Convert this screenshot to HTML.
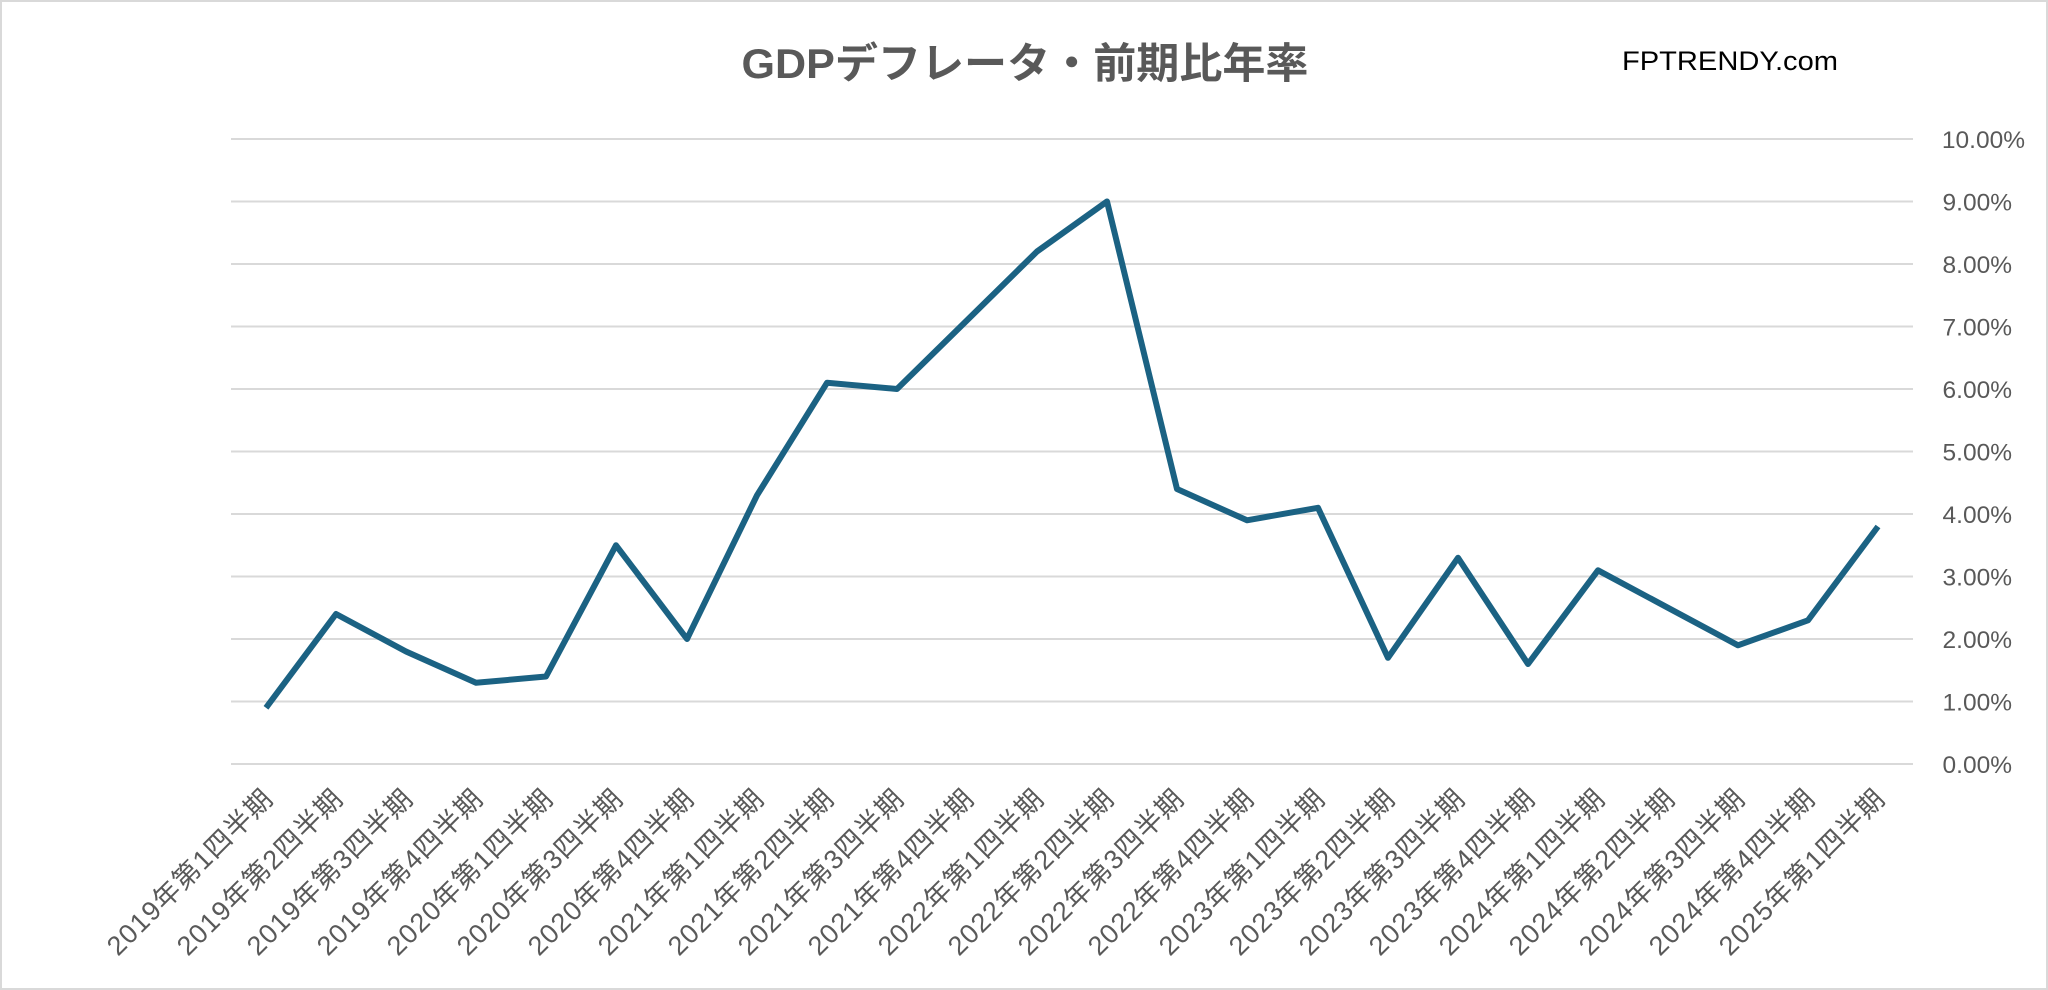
<!DOCTYPE html>
<html><head><meta charset="utf-8"><style>
html,body{margin:0;padding:0;background:#fff;}
svg{display:block;}
</style></head><body>
<svg width="2048" height="990" xmlns="http://www.w3.org/2000/svg">
<rect x="1" y="1" width="2046" height="988" fill="#fff" stroke="#d9d9d9" stroke-width="2"/>
<text x="1025" y="78" text-anchor="middle" font-family="Liberation Sans, Noto Sans CJK JP, sans-serif" font-weight="bold" font-size="42" fill="#595959" textLength="567" lengthAdjust="spacingAndGlyphs">GDPデフレータ・前期比年率</text>
<text x="1622" y="70" font-family="Liberation Sans, sans-serif" font-size="27" fill="#000" textLength="216" lengthAdjust="spacingAndGlyphs">FPTRENDY.com</text>
<g stroke="#d9d9d9" stroke-width="2">
<line x1="231" x2="1913" y1="139" y2="139"/><line x1="231" x2="1913" y1="201.5" y2="201.5"/>
<line x1="231" x2="1913" y1="264" y2="264"/><line x1="231" x2="1913" y1="326.5" y2="326.5"/>
<line x1="231" x2="1913" y1="389" y2="389"/><line x1="231" x2="1913" y1="451.5" y2="451.5"/>
<line x1="231" x2="1913" y1="514" y2="514"/><line x1="231" x2="1913" y1="576.5" y2="576.5"/>
<line x1="231" x2="1913" y1="639" y2="639"/><line x1="231" x2="1913" y1="701.5" y2="701.5"/>
<line x1="231" x2="1913" y1="764" y2="764"/>
</g>
<g font-family="Liberation Sans, sans-serif" font-size="24.5" fill="#595959" text-anchor="end">
<text x="2025" y="148">10.00%</text><text x="2012" y="210.5">9.00%</text>
<text x="2012" y="273">8.00%</text><text x="2012" y="335.5">7.00%</text>
<text x="2012" y="398">6.00%</text><text x="2012" y="460.5">5.00%</text>
<text x="2012" y="523">4.00%</text><text x="2012" y="585.5">3.00%</text>
<text x="2012" y="648">2.00%</text><text x="2012" y="710.5">1.00%</text>
<text x="2012" y="773">0.00%</text>
</g>
<polyline fill="none" stroke="#1b6283" stroke-width="6" stroke-linejoin="round" points="266,707.8 336,614 406,651.5 476,682.8 546,676.5 616,545.3 687,639 757,495.3 827,382.8 897,389 967,320.3 1037,251.5 1107,201.5 1177,489 1247,520.3 1318,507.8 1388,657.8 1458,557.8 1528,664 1598,570.3 1668,607.8 1738,645.3 1808,620.3 1878,526.5"/>
<g font-family="Liberation Sans, Noto Sans CJK JP, sans-serif" font-size="27" letter-spacing="1.2" fill="#595959" text-anchor="end">
<text transform="translate(275,800) rotate(-45)">2019年第1四半期</text>
<text transform="translate(345,800) rotate(-45)">2019年第2四半期</text>
<text transform="translate(415,800) rotate(-45)">2019年第3四半期</text>
<text transform="translate(485,800) rotate(-45)">2019年第4四半期</text>
<text transform="translate(555,800) rotate(-45)">2020年第1四半期</text>
<text transform="translate(625,800) rotate(-45)">2020年第3四半期</text>
<text transform="translate(696,800) rotate(-45)">2020年第4四半期</text>
<text transform="translate(766,800) rotate(-45)">2021年第1四半期</text>
<text transform="translate(836,800) rotate(-45)">2021年第2四半期</text>
<text transform="translate(906,800) rotate(-45)">2021年第3四半期</text>
<text transform="translate(976,800) rotate(-45)">2021年第4四半期</text>
<text transform="translate(1046,800) rotate(-45)">2022年第1四半期</text>
<text transform="translate(1116,800) rotate(-45)">2022年第2四半期</text>
<text transform="translate(1186,800) rotate(-45)">2022年第3四半期</text>
<text transform="translate(1256,800) rotate(-45)">2022年第4四半期</text>
<text transform="translate(1327,800) rotate(-45)">2023年第1四半期</text>
<text transform="translate(1397,800) rotate(-45)">2023年第2四半期</text>
<text transform="translate(1467,800) rotate(-45)">2023年第3四半期</text>
<text transform="translate(1537,800) rotate(-45)">2023年第4四半期</text>
<text transform="translate(1607,800) rotate(-45)">2024年第1四半期</text>
<text transform="translate(1677,800) rotate(-45)">2024年第2四半期</text>
<text transform="translate(1747,800) rotate(-45)">2024年第3四半期</text>
<text transform="translate(1817,800) rotate(-45)">2024年第4四半期</text>
<text transform="translate(1887,800) rotate(-45)">2025年第1四半期</text>
</g>
</svg>
</body></html>
